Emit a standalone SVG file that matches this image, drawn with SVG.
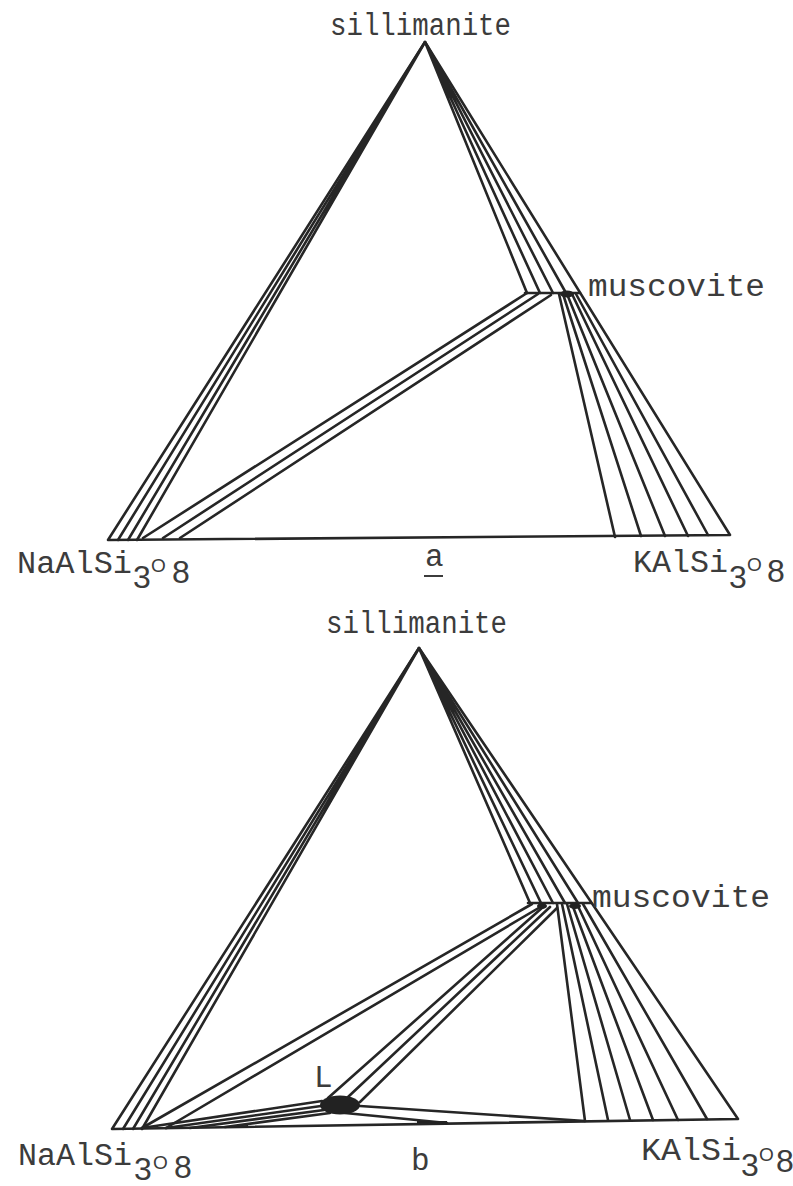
<svg xmlns="http://www.w3.org/2000/svg" width="793" height="1186" viewBox="0 0 793 1186">
<style>
.ln{stroke:#262626;stroke-width:2.6;fill:none;stroke-linecap:round;stroke-linejoin:round}
.lbl{font-family:"Liberation Mono","DejaVu Sans Mono",monospace;font-size:31px;fill:#3c3c3c}
.num{font-family:"Liberation Sans",Arial,sans-serif;font-size:32px;fill:#3c3c3c}
.oo{font-family:"Liberation Sans",Arial,sans-serif;font-size:19px;fill:#3c3c3c}
.blob{fill:#222}
</style>
<rect width="793" height="1186" fill="#fff"/>

<!-- ===== Diagram a ===== -->
<g id="connectors-a" class="ln">
  <path d="M108,540 L425,42 L730,535 Z"/>
  <path d="M425,42 L118,540 M425,42 L128,540 M425,42 L137,540"/>
  <path d="M425,42 L527,293 M425,42 L540,293 M425,42 L553,293 M425,42 L566,293"/>
  <path d="M525,293 L580,293"/>
  <path d="M143,538 L527,293 M163,538 L538,294 M180,538 L551,295"/>
  <path d="M559,294 L615,537 M563,294 L641,536 M567,294 L665,536 M572,294 L688,536 M576,294 L708,535"/>
</g>
<ellipse class="blob" cx="567" cy="294" rx="7" ry="3.5"/>

<g id="node-a-sillimanite"><text class="lbl" x="330" y="35" textLength="181" lengthAdjust="spacingAndGlyphs">sillimanite</text></g>
<g id="node-a-muscovite"><text class="lbl" x="588" y="296" textLength="177" lengthAdjust="spacingAndGlyphs">muscovite</text></g>
<g id="node-a-na"><text class="lbl" x="17" y="573"><tspan textLength="115" lengthAdjust="spacingAndGlyphs">NaAlSi</tspan><tspan class="num" x="133" y="588">3</tspan><tspan class="oo" x="151" y="572">O</tspan><tspan class="num" x="172" y="583">8</tspan></text></g>
<g id="node-a-k"><text class="lbl" x="633" y="572"><tspan textLength="95" lengthAdjust="spacingAndGlyphs">KAlSi</tspan><tspan class="num" x="729" y="588">3</tspan><tspan class="oo" x="747" y="571">O</tspan><tspan class="num" x="767" y="582">8</tspan></text></g>
<g id="caption-a"><text class="lbl" x="425" y="566" font-size="28">a</text><line x1="424" y1="576" x2="443" y2="576" stroke="#3c3c3c" stroke-width="2"/></g>

<!-- ===== Diagram b ===== -->
<g id="connectors-b" class="ln">
  <path d="M112,1129 L419,648 L738,1119 Z"/>
  <path d="M419,648 L123,1129 M419,648 L133,1129 M419,648 L142,1129"/>
  <path d="M419,648 L530,903 M419,648 L541,903 M419,648 L553,903 M419,648 L565,903 M419,648 L578,903"/>
  <path d="M528,903 L591,903"/>
  <path d="M142,1128 L532,904 M166,1128 L542,906"/>
  <path d="M328,1098 L543,907 M348,1097 L550,907 M360,1102 L557,908"/>
  <path d="M142,1128 L322,1101 M166,1128 L321,1106 M190,1128 L324,1110 M225,1127 L330,1113"/>
  <path d="M360,1106 L585,1121 M345,1113 L447,1123"/>
  <path d="M557,904 L585,1121 M562,904 L608,1120 M567,904 L630,1120 M572,904 L653,1120 M577,904 L678,1120 M583,904 L707,1119"/>
</g>
<polygon class="blob" points="417,1121 447,1121 447,1124 417,1123"/>
<polygon class="blob" points="215,1127 248,1125 248,1128 215,1128"/>
<ellipse class="blob" cx="575" cy="906" rx="6" ry="3"/>
<ellipse class="blob" cx="542" cy="906" rx="5" ry="3"/>

<g id="node-b-L"><ellipse class="blob" cx="340" cy="1105" rx="20" ry="9.5"/><text class="lbl" x="314" y="1087">L</text></g>
<g id="node-b-sillimanite"><text class="lbl" x="326" y="633" textLength="181" lengthAdjust="spacingAndGlyphs">sillimanite</text></g>
<g id="node-b-muscovite"><text class="lbl" x="592" y="907" textLength="178" lengthAdjust="spacingAndGlyphs">muscovite</text></g>
<g id="node-b-na"><text class="lbl" x="18" y="1165"><tspan textLength="114" lengthAdjust="spacingAndGlyphs">NaAlSi</tspan><tspan class="num" x="134" y="1180">3</tspan><tspan class="oo" x="153" y="1169">O</tspan><tspan class="num" x="174" y="1178">8</tspan></text></g>
<g id="node-b-k"><text class="lbl" x="641" y="1160"><tspan textLength="100" lengthAdjust="spacingAndGlyphs">KAlSi</tspan><tspan class="num" x="741" y="1176">3</tspan><tspan class="oo" x="759" y="1161">O</tspan><tspan class="num" x="776" y="1172">8</tspan></text></g>
<g id="caption-b"><text class="lbl" x="411" y="1170" font-size="28">b</text></g>
</svg>
